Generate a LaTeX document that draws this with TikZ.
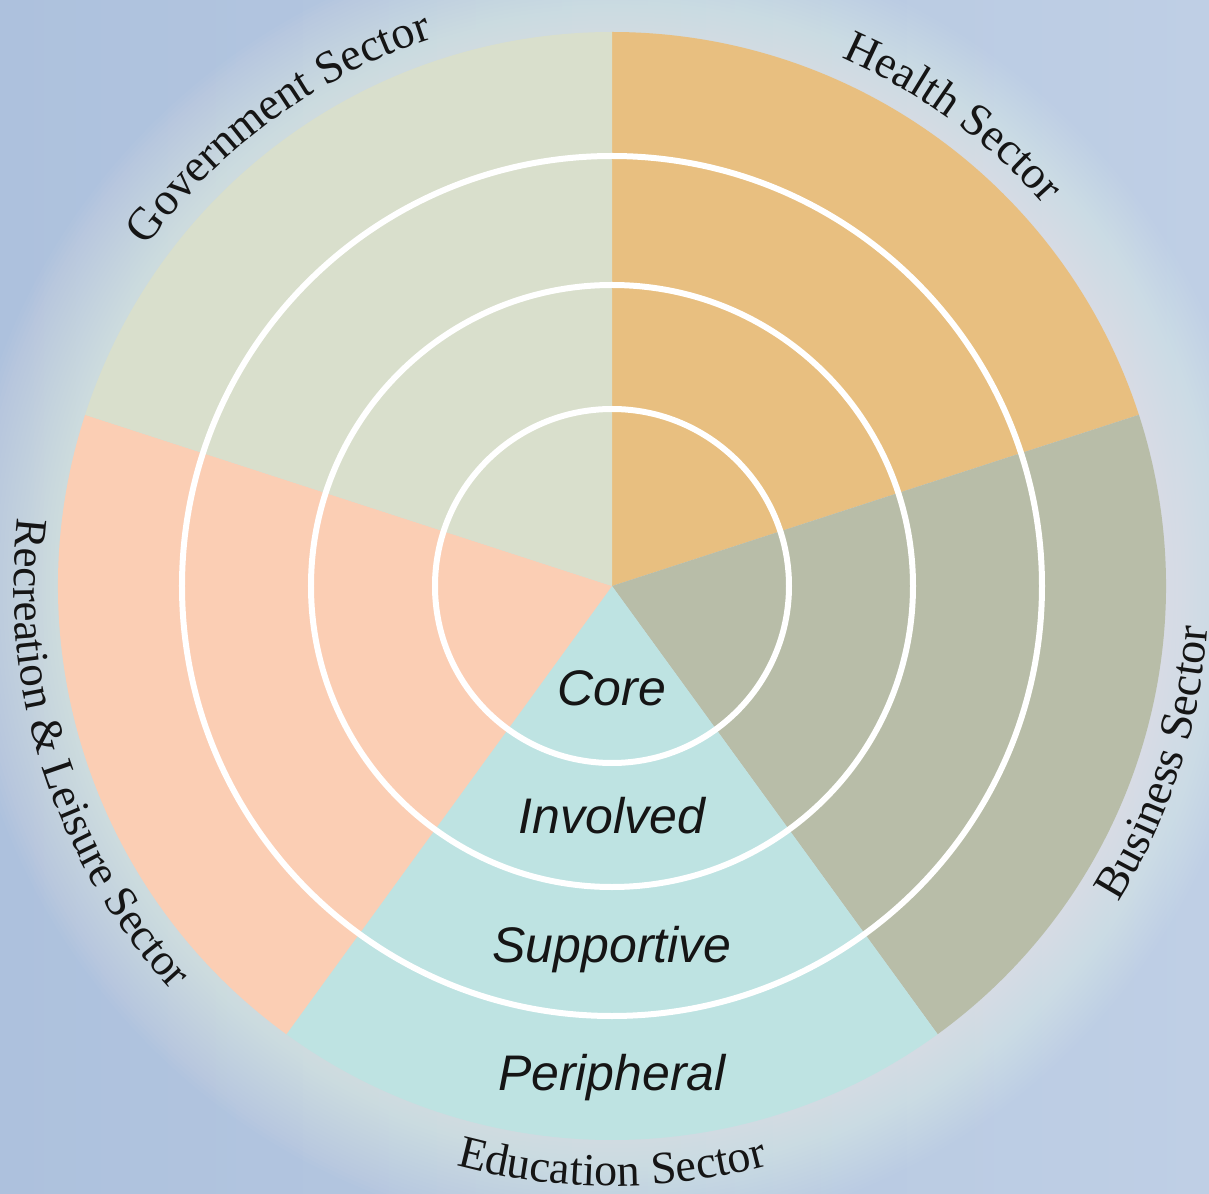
\documentclass[tikz,border=0pt]{standalone}
\usepackage{fontspec}
\setmainfont{Liberation Serif}
\newfontfamily\labsans{Liberation Sans}
\usetikzlibrary{decorations.text}
\definecolor{bgA}{HTML}{ADC1DD}
\definecolor{bgB}{HTML}{BFCFE5}
\definecolor{healthc}{HTML}{E8BF80}
\definecolor{businessc}{HTML}{B8BDA8}
\definecolor{educationc}{HTML}{BEE3E2}
\definecolor{recreationc}{HTML}{FBCEB4}
\definecolor{governmentc}{HTML}{D9DFCC}
\definecolor{inkc}{HTML}{151515}
\begin{document}
\begin{tikzpicture}[x=1pt,y=1pt,
  ringline/.style={draw=white, line width=6pt},
  levellabel/.style={font=\labsans\itshape\fontsize{50}{56}\selectfont, text=inkc, anchor=base, inner sep=0pt},
  sectorfont/.style={decorate, decoration={text along path, text align=center, text color=inkc}}
]
\useasboundingbox (-612,-607) rectangle (597,586);
% background
\shade[left color=bgA, right color=bgB] (-612,-607) rectangle (597,586);
% halo around the wheel
\foreach \i in {0,...,24}{
  \pgfmathsetmacro{\rr}{652-\i*3.9}
  \fill[white, opacity=0.027] (0,0) circle[radius=\rr pt];
}
% sectors
\coordinate (c) at (0,0);
\fill[healthc] (c) -- (90:554pt) arc[start angle=90, end angle=18, radius=554pt] -- cycle;
\fill[businessc] (c) -- (18:554pt) arc[start angle=18, end angle=-54, radius=554pt] -- cycle;
\fill[educationc] (c) -- (-54:554pt) arc[start angle=-54, end angle=-126, radius=554pt] -- cycle;
\fill[recreationc] (c) -- (-126:554pt) arc[start angle=-126, end angle=-198, radius=554pt] -- cycle;
\fill[governmentc] (c) -- (162:554pt) arc[start angle=162, end angle=90, radius=554pt] -- cycle;
% rings
\draw[ringline] (c) circle[radius=177pt];
\draw[ringline] (c) circle[radius=301pt];
\draw[ringline] (c) circle[radius=430pt];
% level labels
\node[levellabel] (core) at (0,-119) {Core};
\node[levellabel] (involved) at (0,-247) {Involved};
\node[levellabel] (supportive) at (0,-376) {Supportive};
\node[levellabel] (peripheral) at (0,-504) {Peripheral};
% sector labels
\path[sectorfont, decoration={text={|\fontsize{46}{50}\selectfont|Health Sector}}]
  (84:576pt) arc[start angle=84, end angle=24, radius=576pt];
\path[sectorfont, decoration={text={|\fontsize{46}{50}\selectfont|Government Sector}}]
  (156:576pt) arc[start angle=156, end angle=96, radius=576pt];
\path[sectorfont, decoration={text={|\fontsize{46}{50}\selectfont|Business Sector}}]
  (-48:597pt) arc[start angle=-48, end angle=12, radius=597pt];
\path[sectorfont, decoration={text={|\fontsize{46}{50}\selectfont|Education Sector}}]
  (-120:600pt) arc[start angle=-120, end angle=-60, radius=600pt];
\path[sectorfont, decoration={text={|\fontsize{45}{50}\selectfont|Recreation {\&} Leisure Sector}}]
  (166:598pt) arc[start angle=166, end angle=230, radius=598pt];
\end{tikzpicture}
\end{document}
